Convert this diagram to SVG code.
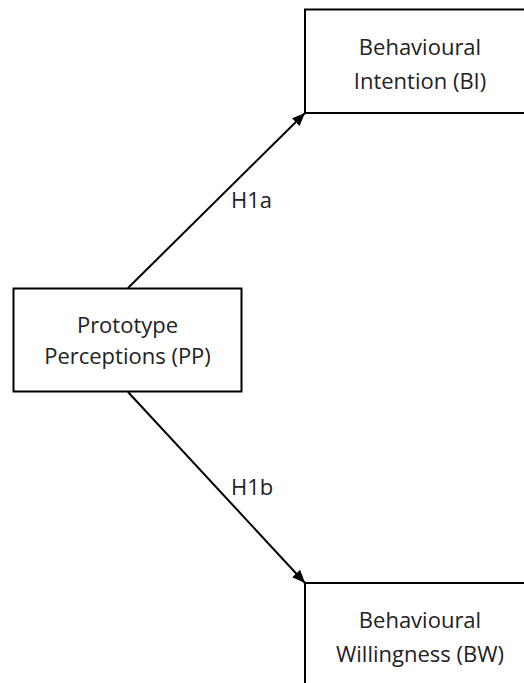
<svg xmlns="http://www.w3.org/2000/svg" width="524" height="683" viewBox="0 0 524 683">
  <style>
    .box { fill: #ffffff; stroke: #000000; stroke-width: 2; }
    .label { font-family: "Open Sans", "Liberation Sans", sans-serif; font-size: 22px; fill: #222222; text-anchor: middle; }
    .edge { stroke: #000000; stroke-width: 2; fill: none; marker-end: url(#arrow); }
    .edge-label { font-family: "Open Sans", "Liberation Sans", sans-serif; font-size: 22px; fill: #222222; }
  </style>
  <defs>
    <marker id="arrow" viewBox="0 0 12 10" refX="12" refY="5" markerWidth="6.5" markerHeight="5.5" orient="auto" markerUnits="strokeWidth">
      <path d="M0,0 L12,5 L0,10 Z" fill="#000000"/>
    </marker>
  </defs>
  <rect width="524" height="683" fill="#ffffff"/>

  <g id="connectors">
    <line class="edge" x1="128" y1="288" x2="305" y2="113"/>
    <text class="edge-label" x="231" y="208">H1a</text>
    <line class="edge" x1="128" y1="392" x2="305" y2="583"/>
    <text class="edge-label" x="231" y="495">H1b</text>
  </g>

  <g id="node-bi">
    <rect class="box" x="305" y="9.5" width="240" height="103.5"/>
    <text class="label" x="420" y="55">Behavioural</text>
    <text class="label" x="420" y="89">Intention (BI)</text>
  </g>

  <g id="node-pp">
    <rect class="box" x="13.5" y="288.5" width="228" height="103"/>
    <text class="label" x="127.5" y="333">Prototype</text>
    <text class="label" x="127.5" y="364">Perceptions (PP)</text>
  </g>

  <g id="node-bw">
    <rect class="box" x="305" y="583" width="240" height="120"/>
    <text class="label" x="420" y="628">Behavioural</text>
    <text class="label" x="420" y="662">Willingness (BW)</text>
  </g>
</svg>
